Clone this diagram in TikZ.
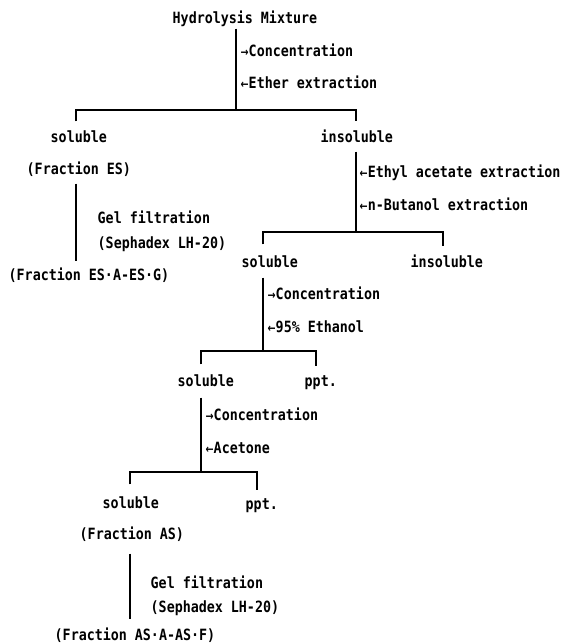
\documentclass[tikz,border=0pt]{standalone}
\usepackage{fontspec}
\newfontfamily\chemfont[FakeStretch=0.86]{DejaVu Sans Mono}
\newfontfamily\chemarrowfont[FakeStretch=0.8]{DejaVu Sans}
\newcommand{\ra}{{\chemarrowfont\bfseries\fontsize{12pt}{14pt}\selectfont →}}
\newcommand{\la}{{\chemarrowfont\bfseries\fontsize{12pt}{14pt}\selectfont ←}}

\begin{document}
\begin{tikzpicture}[x=1pt, y=-1pt, line width=1.4pt,
    lbl/.style={inner sep=0pt, anchor=base west, text height=11pt, text depth=0pt,
        font=\chemfont\bfseries\fontsize{15.5pt}{18pt}\selectfont}]
    \useasboundingbox (0,0) rectangle (562,644);

    % ---------- hydrolysis mixture ----------
    \node[lbl] (hm) at (172,24) {Hydrolysis Mixture};
    \coordinate (b1) at (236,110);
    \coordinate (b1l) at (76,110);
    \coordinate (b1r) at (356,110);
    \draw[shorten <=4pt] (hm.south -| b1) -- (b1);
    \node[lbl] (conc1) at (240,57) {\ra Concentration};
    \node[lbl] (ether) at (240,89) {\la Ether extraction};
    \node[lbl] (sol1) at (50,143) {soluble};
    \node[lbl] (insol1) at (320,143) {insoluble};
    \draw[shorten <=10pt, shorten >=10pt] (sol1.north -| b1l) -- (b1l) -- (b1r) -- (b1r |- insol1.north);

    % ---------- fraction ES ----------
    \node[lbl] (fes) at (26,175) {(Fraction ES)};
    \node[lbl] (gel1) at (97,223) {Gel filtration};
    \node[lbl] (seph1) at (97,248) {(Sephadex LH-20)};
    \node[lbl] (fesg) at (8,280) {(Fraction ES·A-ES·G)};
    \draw[shorten <=8pt, shorten >=7pt] (fes.south -| b1l) -- (fesg.north -| b1l);

    % ---------- ethyl acetate / n-butanol ----------
    \coordinate (b2) at (356,232);
    \coordinate (b2l) at (263,232);
    \coordinate (b2r) at (443,232);
    \draw[shorten <=8pt] (insol1.south -| b2) -- (b2);
    \node[lbl] (ethyl) at (359,178) {\la Ethyl acetate extraction};
    \node[lbl] (butanol) at (359,211) {\la n-Butanol extraction};
    \node[lbl] (sol2) at (241,267) {soluble};
    \node[lbl] (insol2) at (410,267) {insoluble};
    \draw[shorten <=11pt, shorten >=9pt] (sol2.north -| b2l) -- (b2l) -- (b2r) -- (b2r |- insol2.north);

    % ---------- 95% ethanol ----------
    \coordinate (b3) at (263,351);
    \coordinate (b3l) at (201,351);
    \coordinate (b3r) at (316,351);
    \draw[shorten <=10pt] (sol2.south -| b3) -- (b3);
    \node[lbl] (conc3) at (267,299) {\ra Concentration};
    \node[lbl] (eth95) at (267,332) {\la 95\% Ethanol};
    \node[lbl] (sol3) at (177,386) {soluble};
    \node[lbl] (ppt3) at (304,386) {ppt.};
    \draw[shorten <=10pt, shorten >=8pt] (sol3.north -| b3l) -- (b3l) -- (b3r) -- (b3r |- ppt3.north);

    % ---------- acetone ----------
    \coordinate (b4) at (201,472);
    \coordinate (b4l) at (130,472);
    \coordinate (b4r) at (257,472);
    \draw[shorten <=11pt] (sol3.south -| b4) -- (b4);
    \node[lbl] (conc4) at (205,420) {\ra Concentration};
    \node[lbl] (acet) at (205,453) {\la Acetone};
    \node[lbl] (sol4) at (102,508) {soluble};
    \node[lbl] (ppt4) at (245,509) {ppt.};
    \draw[shorten <=12pt, shorten >=7pt] (sol4.north -| b4l) -- (b4l) -- (b4r) -- (b4r |- ppt4.north);

    % ---------- fraction AS ----------
    \node[lbl] (fas) at (79,539) {(Fraction AS)};
    \node[lbl] (gel2) at (150,588) {Gel filtration};
    \node[lbl] (seph2) at (150,612) {(Sephadex LH-20)};
    \node[lbl] (fasf) at (54,640) {(Fraction AS·A-AS·F)};
    \draw[shorten <=14pt, shorten >=9pt] (fas.south -| b4l) -- (fasf.north -| b4l);
\end{tikzpicture}
\end{document}
